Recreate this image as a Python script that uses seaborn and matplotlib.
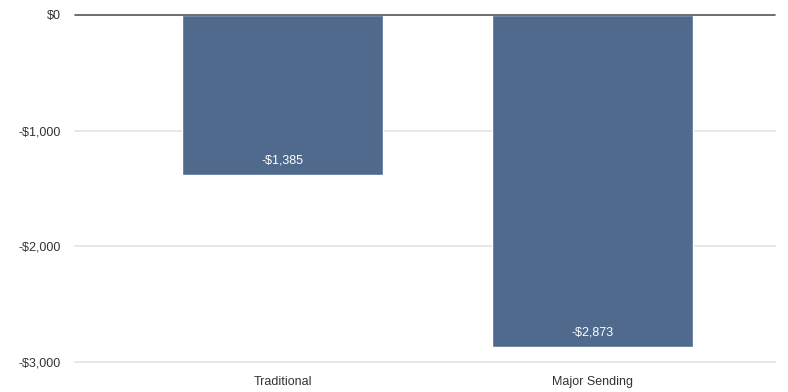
import pandas as pd
import seaborn as sns
import matplotlib.pyplot as plt

# Chart data
categories = ["Traditional", "Major Sending"]
values = [-1385, -2873]
y_ticks = [0, -1000, -2000, -3000]
y_tick_labels = ["$0", "-$1,000", "-$2,000", "-$3,000"]

df = pd.DataFrame({"Category": categories, "Value": values})

sns.set_style("white")
plt.rcParams["font.family"] = ["Liberation Sans", "DejaVu Sans"]

fig = plt.figure(figsize=(7.88, 3.92), dpi=100)
ax = fig.add_axes([75 / 788, 30 / 392, 700 / 788, 347 / 392])

sns.barplot(data=df, x="Category", y="Value", color="#506a8d", width=0.65,
            saturation=1, ax=ax, zorder=3)

# Value labels inside bars near the bottom end
for i, v in enumerate(values):
    ax.text(i, v + 130, f"-${abs(v):,}", ha="center", va="center",
            color="white", fontsize=9, zorder=4)

ax.set_ylim(-3000, 0)
ax.set_xlim(-0.67, 1.59)
ax.set_yticks(y_ticks)
ax.set_yticklabels(y_tick_labels)
for t in y_ticks[1:]:
    ax.axhline(t, color="#e3e3e3", lw=1.2, zorder=1, clip_on=False)
ax.axhline(0, color="#555555", lw=1.2, zorder=5, clip_on=False)

ax.set_xlabel("")
ax.set_ylabel("")
ax.tick_params(axis="both", length=0, labelsize=9, colors="#333333")
ax.tick_params(axis="y", pad=10)
ax.tick_params(axis="x", pad=10)
sns.despine(ax=ax, left=True, bottom=True, top=True, right=True)

fig.savefig("out.png", dpi=100)
